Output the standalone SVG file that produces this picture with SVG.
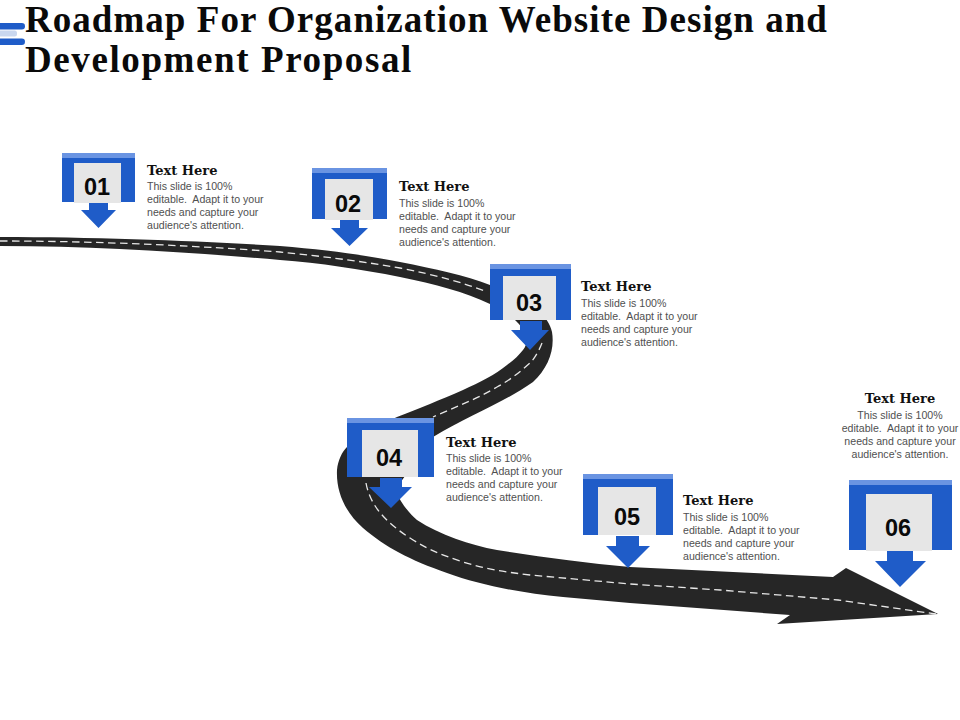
<svg xmlns="http://www.w3.org/2000/svg" width="960" height="720" viewBox="0 0 960 720">
<style>
.title{font-family:"Liberation Serif","DejaVu Serif",serif;font-weight:700;font-size:37px;fill:#0a0a0a}
.h{font-family:"DejaVu Serif","Liberation Serif",serif;font-weight:700;font-size:13px;fill:#111}
.b{font-family:"Liberation Sans",Arial,sans-serif;font-size:10.600px;fill:#505050}
.n{font-family:"Liberation Sans",Arial,sans-serif;font-weight:700;font-size:23.500px;fill:#0a0a0a;text-anchor:middle}
.blue{fill:#1f5cc8}.light{fill:#6a94e2}.box{fill:#e6e6e6}
.mid{text-anchor:middle}
</style>
<rect width="960" height="720" fill="#fff"/>
<g id="title-mark">
<rect x="-6" y="23" width="31" height="6.500" rx="3.200" fill="#1f5cc8"/>
<rect x="-6" y="30.500" width="23" height="6" rx="2.500" fill="#c9d7ef"/>
<rect x="-6" y="38.500" width="31" height="6.500" rx="3.200" fill="#1f5cc8"/>
</g>
<text class="title" x="25" y="32" letter-spacing="1.040">Roadmap For Organization Website Design and</text>
<text class="title" x="25" y="72" letter-spacing="1.600">Development Proposal</text>
<g id="connectors">
<path id="road" fill="#262626" d="M0 237 C100 237 200 241 280 246 C330 250 370 256 400 262 C435 269 465 275 490 285 C525 298 548 313 552 332 C555 350 548 368 533 382 C505 402 470 415 433 437 L395 490 C402 505 410 514 417 520 C440 535 470 545 497 550 C540 557 585 563 630 567 L833 577 L846 568 L938 614 L777 624 L790 615 L630 603 L563 597 C520 593 480 585 447 573 C410 560 385 547 363 528 C345 512 336 492 337 470 C338 460 342 452 347 447 C360 435 380 425 397 417 C420 408 440 400 463 390 C480 382 495 375 507 365 C514 360 519 355 523 350 C535 335 515 315 490 304 C465 292 435 284 400 277 C360 269 320 263 280 260 C200 253 100 246 0 246 Z"/>
<path id="centre-line" fill="none" stroke="#e8e8e8" stroke-width="1.300" stroke-dasharray="7.500 4.500" d="M0 241 C100 241 200 246 280 252 C320 256 360 261 400 268 C435 275 462 282 487 292 M542 343 C538 353 534 359 530 363 C520 372 510 380 497 387 C475 400 455 407 433 417 M366 483 C370 505 385 522 410 538 C430 551 445 556 463 562 C485 569 505 572 530 575 L630 584 L720 590 L838 600 L936 614"/>
</g>
<g id="node-01">
<rect class="blue" x="62" y="153" width="73" height="49"/><rect class="light" x="62" y="153" width="73" height="5"/>
<rect class="box" x="74" y="163" width="47" height="40"/>
<path class="blue" d="M89 203H108V210H116L98.500 228L81 210H89Z"/>
<text class="n" x="97" y="195">01</text>
<text class="h" x="147" y="175">Text Here</text>
<text class="b"><tspan x="147" y="190">This slide is 100%</tspan><tspan x="147" y="203">editable.&#160; Adapt it to your</tspan><tspan x="147" y="216">needs and capture your</tspan><tspan x="147" y="229">audience's attention.</tspan></text>
</g>
<g id="node-02">
<rect class="blue" x="312" y="168" width="75" height="51"/><rect class="light" x="312" y="168" width="75" height="5"/>
<rect class="box" x="325" y="179" width="48" height="41"/>
<path class="blue" d="M340 220H359V228H368L349.500 246L331 228H340Z"/>
<text class="n" x="348" y="212">02</text>
<text class="h" x="399" y="191">Text Here</text>
<text class="b"><tspan x="399" y="207">This slide is 100%</tspan><tspan x="399" y="220">editable.&#160; Adapt it to your</tspan><tspan x="399" y="233">needs and capture your</tspan><tspan x="399" y="246">audience's attention.</tspan></text>
</g>
<g id="node-03">
<rect class="blue" x="490" y="264" width="81" height="56"/><rect class="light" x="490" y="264" width="81" height="5"/>
<rect class="box" x="503" y="276" width="53" height="44"/>
<path class="blue" d="M520 321H542V330H549L530 350L511 330H520Z"/>
<text class="n" x="529" y="311">03</text>
<text class="h" x="581" y="291">Text Here</text>
<text class="b"><tspan x="581" y="307">This slide is 100%</tspan><tspan x="581" y="320">editable.&#160; Adapt it to your</tspan><tspan x="581" y="333">needs and capture your</tspan><tspan x="581" y="346">audience's attention.</tspan></text>
</g>
<g id="node-04">
<rect class="blue" x="347" y="418" width="87" height="59"/><rect class="light" x="347" y="418" width="87" height="5"/>
<rect class="box" x="362" y="430" width="56" height="47"/>
<path class="blue" d="M380 478H402V487H412L391 508L369 487H380Z"/>
<text class="n" x="389" y="466">04</text>
<text class="h" x="446" y="447">Text Here</text>
<text class="b"><tspan x="446" y="462">This slide is 100%</tspan><tspan x="446" y="475">editable.&#160; Adapt it to your</tspan><tspan x="446" y="488">needs and capture your</tspan><tspan x="446" y="501">audience's attention.</tspan></text>
</g>
<g id="node-05">
<rect class="blue" x="583" y="474" width="90" height="61"/><rect class="light" x="583" y="474" width="90" height="5"/>
<rect class="box" x="598" y="487" width="58" height="48"/>
<path class="blue" d="M616 536H639V546H650L628 568L606 546H616Z"/>
<text class="n" x="627" y="525">05</text>
<text class="h" x="683" y="505">Text Here</text>
<text class="b"><tspan x="683" y="521">This slide is 100%</tspan><tspan x="683" y="534">editable.&#160; Adapt it to your</tspan><tspan x="683" y="547">needs and capture your</tspan><tspan x="683" y="560">audience's attention.</tspan></text>
</g>
<g id="node-06">
<rect class="blue" x="849" y="480" width="103" height="70"/><rect class="light" x="849" y="480" width="103" height="5"/>
<rect class="box" x="866" y="494" width="66" height="57"/>
<path class="blue" d="M887 551H913V561H926L900 587L875 561H887Z"/>
<text class="n" x="898" y="536">06</text>
<text class="h mid" x="900" y="403">Text Here</text>
<text class="b mid"><tspan x="900" y="419">This slide is 100%</tspan><tspan x="900" y="432">editable.&#160; Adapt it to your</tspan><tspan x="900" y="445">needs and capture your</tspan><tspan x="900" y="458">audience's attention.</tspan></text>
</g>
</svg>
